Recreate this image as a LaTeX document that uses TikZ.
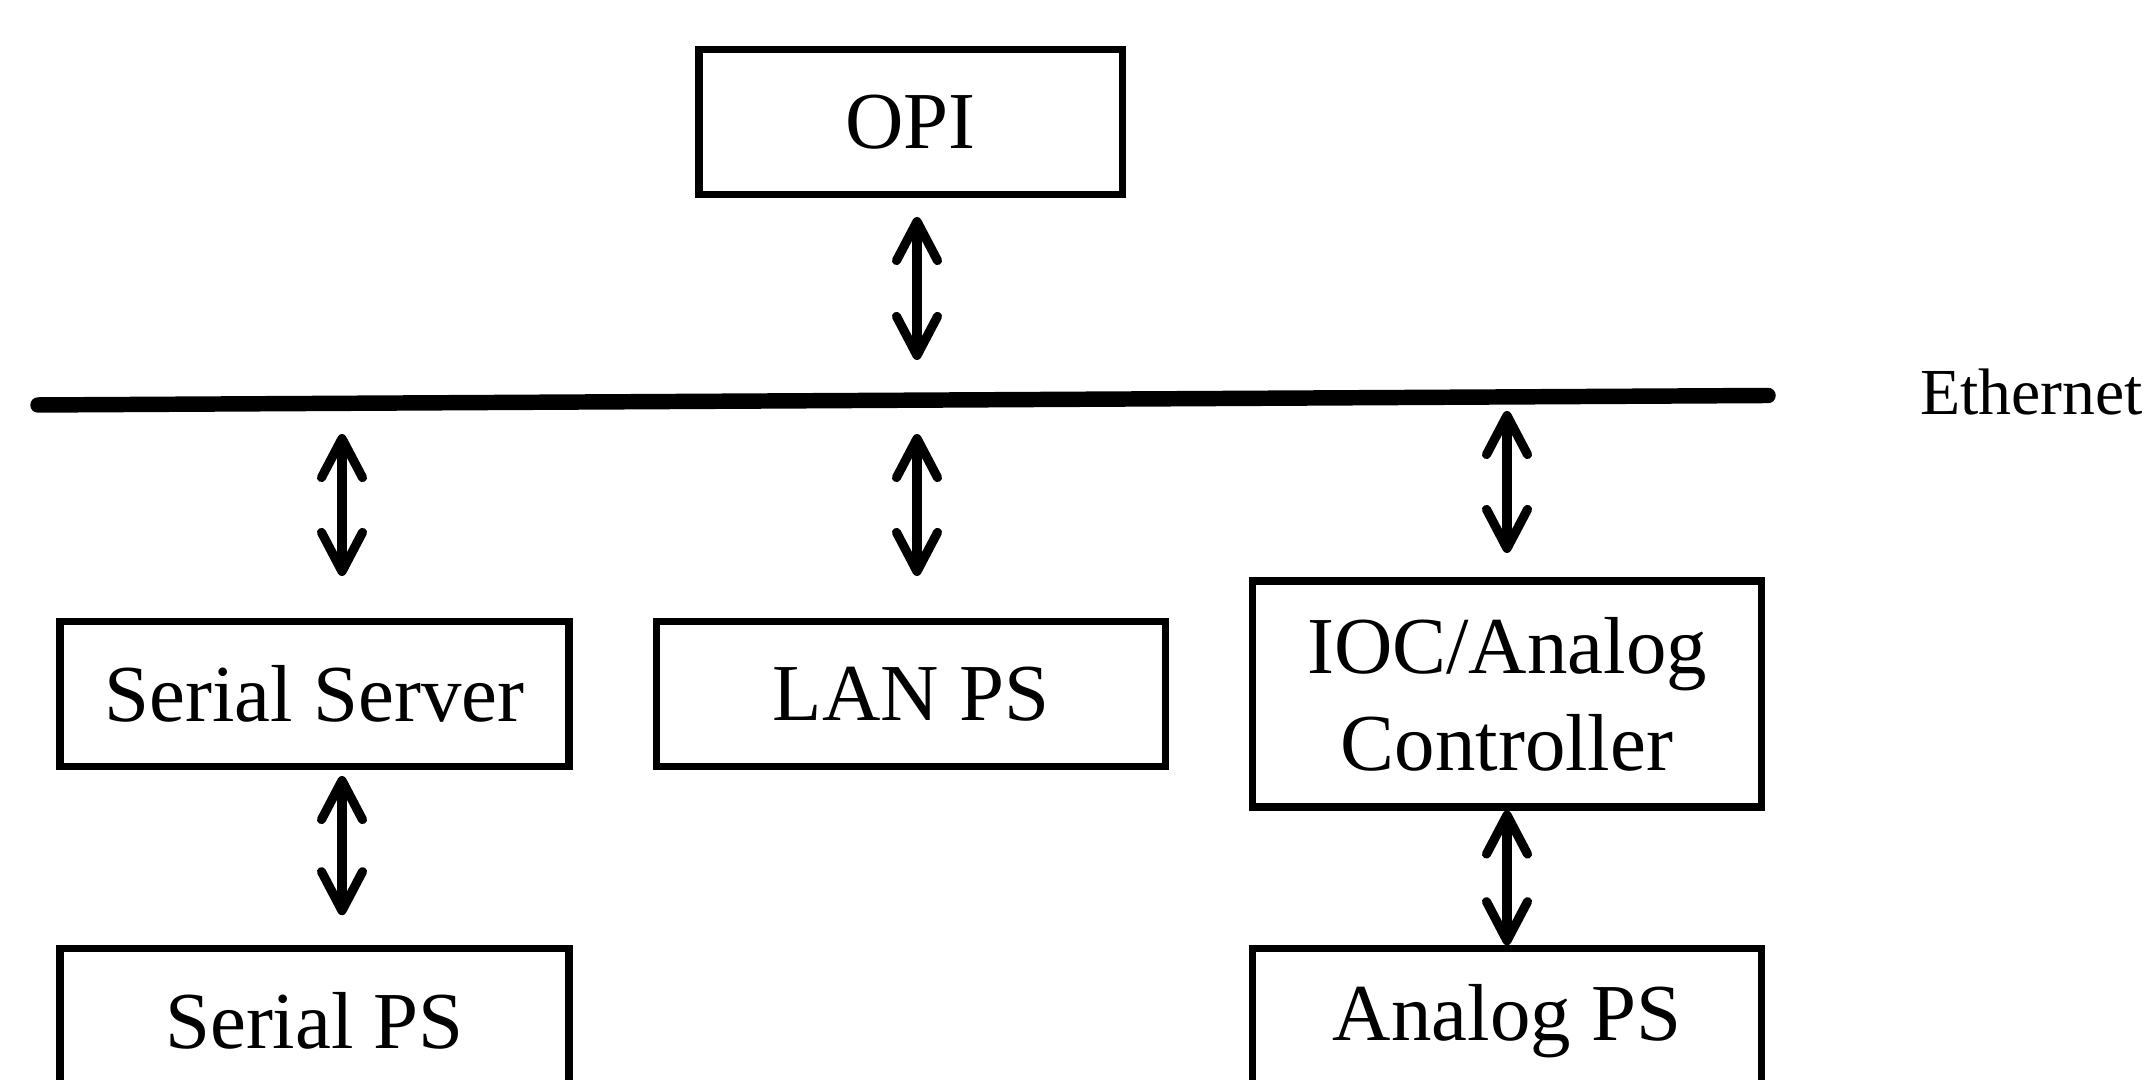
\documentclass[tikz,border=0pt]{standalone}
\usepackage{fontspec}
\setmainfont{Liberation Serif}
\usetikzlibrary{positioning,arrows.meta}

\tikzset{
  block/.style={draw, line width=2pt, minimum width=5.09cm, minimum height=1.45cm,
    inner sep=0pt, align=center, font=\fontsize{23}{27.6}\selectfont},
  barb/.tip={Straight Barb[length=3.9mm,width=4.1mm,round]},
  link/.style={line width=2.6pt, barb-barb},
  bus/.style={line width=4.4pt, line cap=round}
}

\begin{document}
\begin{tikzpicture}
\useasboundingbox (0,0) rectangle (21.51,10.80);

\node[block, minimum width=4.23cm] (opi) at (9.105,9.575) {OPI};

\node[block] (serv) at (3.145,3.86) {Serial Server};

\node[block] (lanps) at (9.11,3.86) {LAN PS};

\node[block, minimum height=2.26cm] (ioc) at (15.07,3.86) {IOC/Analog\\Controller};

\node[block] (serps) at (3.145,0.5875) {Serial PS};

\node[block] (aps) at (15.07,0.5875) {Analog PS};

% ethernet bus
\coordinate (busL) at (0.38,6.75);
\coordinate (busR) at (17.68,6.845);
\draw[bus] (busL) -- (busR);
\node[anchor=base west, font=\fontsize{18.7}{22}\selectfont] (ethlabel) at (19.08,6.65) {Ethernet};

% ends of the links to the bus
\coordinate (opiT) at (9.17,8.63);
\coordinate (opiB) at (9.17,7.20);
\coordinate (servT) at (3.42,6.46);
\coordinate (servB) at (3.42,5.04);
\coordinate (lanT) at (9.17,6.46);
\coordinate (lanB) at (9.17,5.04);
\coordinate (iocT) at (15.07,6.69);
\coordinate (iocB) at (15.07,5.27);

\draw[link] (opiT) -- (opiB);

\draw[link] (servT) -- (servB);

\draw[link] (lanT) -- (lanB);

\draw[link] (iocT) -- (iocB);

\draw[link] ([xshift=2.75mm,yshift=-0.6mm]serv.south) -- ([xshift=2.75mm,yshift=3mm]serps.north);

\draw[link] (ioc.south) -- (aps.north);
\end{tikzpicture}
\end{document}
